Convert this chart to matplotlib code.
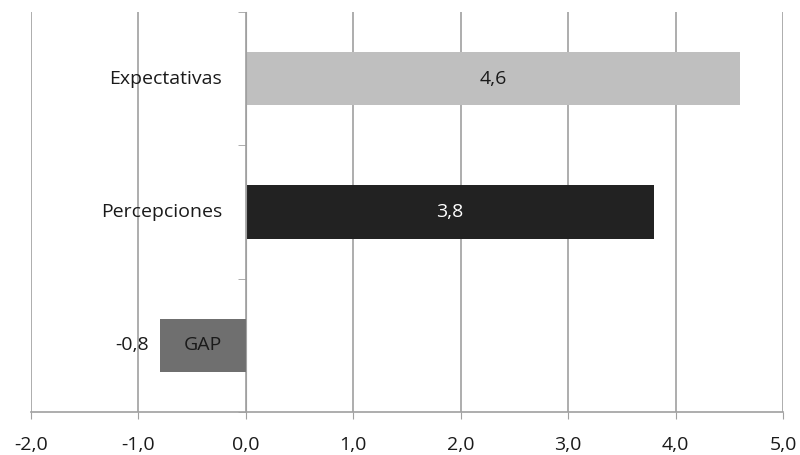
import numpy as np
import matplotlib.pyplot as plt

categories = ["Expectativas", "Percepciones", "GAP"]
values = [4.6, 3.8, -0.8]
bar_colors = ["#bfbfbf", "#222222", "#6f6f6f"]
label_colors = ["#1a1a1a", "#ffffff", "#1a1a1a"]
xticks = [-2, -1, 0, 1, 2, 3, 4, 5]

plt.rcParams["font.family"] = ["Open Sans", "DejaVu Sans"]
FS = 14


def comma(v):
    return f"{v:.1f}".replace(".", ",")


fig = plt.figure(figsize=(8, 4.55), dpi=100)
ax = fig.add_axes([31 / 800, 1 - 412 / 455, (783 - 31) / 800, 400 / 455])

y = np.arange(len(categories))
ax.barh(y, values, height=0.4, color=bar_colors, zorder=3)

# value labels: centred inside positive bars, outside the end of negative ones
for yi, v, c in zip(y, values, label_colors):
    if v >= 0:
        ax.text(v / 2, yi, comma(v), ha="center", va="center",
                color=c, fontsize=FS, zorder=6)
    else:
        ax.annotate(comma(v), (v, yi), xytext=(-8, 0), textcoords="offset points",
                    ha="right", va="center", color=c, fontsize=FS, zorder=6)

# category names sit just left of the zero axis, on top of the bars
for yi, name in zip(y, categories):
    ax.annotate(name, (0, yi), xytext=(-17, 0), textcoords="offset points",
                ha="right", va="center", color="#1a1a1a", fontsize=FS, zorder=6)

ax.set_xlim(-2, 5)
ax.set_ylim(2.5, -0.5)
ax.set_xticks(xticks, labels=[comma(t) for t in xticks], fontsize=FS, color="#1a1a1a")
ax.set_yticks([])
ax.set_yticks([-0.5, 0.5, 1.5, 2.5], minor=True)

ax.grid(axis="x", color="#a0a0a0", linewidth=1.2, zorder=0)

for s in ["top", "right"]:
    ax.spines[s].set_visible(False)
ax.spines["left"].set_position(("data", 0))
ax.spines["left"].set_color("#a0a0a0")
ax.spines["left"].set_zorder(5)
ax.spines["bottom"].set_color("#a0a0a0")
ax.spines["bottom"].set_linewidth(1.2)

ax.tick_params(axis="y", which="minor", length=6, color="#a0a0a0", direction="out")
ax.tick_params(axis="x", length=5, color="#a0a0a0", pad=12)

fig.savefig("out.png", dpi=100)
